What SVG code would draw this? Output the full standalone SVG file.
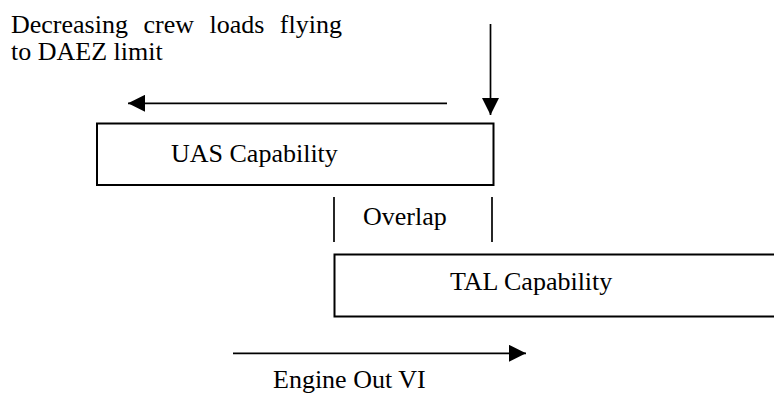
<svg xmlns="http://www.w3.org/2000/svg" width="774" height="393" viewBox="0 0 774 393">
<style>
text{font-family:"Liberation Serif","Times New Roman",serif;font-size:26px;fill:#000}
.box{fill:none;stroke:#000;stroke-width:2}
.ln{fill:none;stroke:#000;stroke-width:1.7}
</style>
<defs>
<marker id="ah" markerUnits="userSpaceOnUse" markerWidth="17" markerHeight="17" viewBox="0 0 16 16" refX="16" refY="8" orient="auto">
<path d="M0,0 L16,8 L0,16 Z" fill="#000"/>
</marker>
</defs>
<rect width="774" height="393" fill="#fff"/>
<g id="label-decreasing">
<text x="11" y="33" word-spacing="9">Decreasing crew loads flying</text>
<text x="11" y="60">to DAEZ limit</text>
</g>
<g id="uas">
<rect class="box" x="97" y="123.5" width="396.5" height="61.5"/>
<text x="171" y="162">UAS Capability</text>
</g>
<g id="overlap">
<line class="ln" x1="334" y1="197" x2="334" y2="242"/>
<line class="ln" x1="492" y1="197" x2="492" y2="242"/>
<text x="363" y="225">Overlap</text>
</g>
<g id="tal">
<path class="box" d="M780,254.5 H334.5 V316.5 H780"/>
<text x="450" y="290">TAL Capability</text>
</g>
<g id="engine-out">
<text x="273" y="388">Engine Out VI</text>
</g>
<g id="connectors">
<line class="ln" x1="447" y1="103.3" x2="128" y2="103.3" marker-end="url(#ah)"/>
<line class="ln" x1="490.5" y1="24" x2="490.5" y2="115" marker-end="url(#ah)"/>
<line class="ln" x1="233" y1="353.3" x2="526" y2="353.3" marker-end="url(#ah)"/>
</g>
</svg>
